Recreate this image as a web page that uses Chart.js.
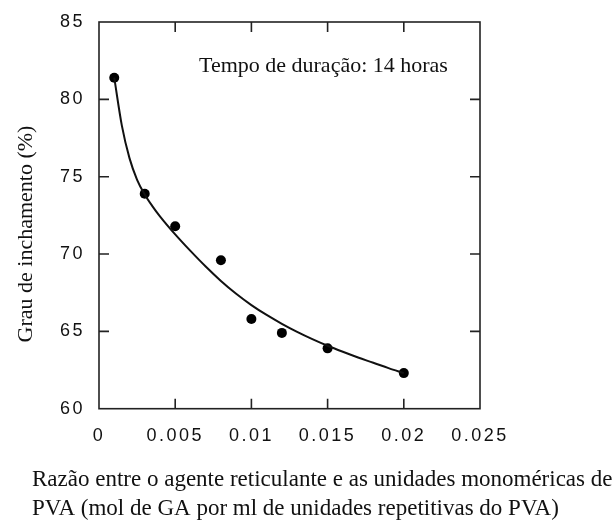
<!DOCTYPE html>
<html>
<head>
<meta charset="utf-8">
<script src="https://cdn.jsdelivr.net/npm/chart.js@4.4.0/dist/chart.umd.min.js"></script>
<style>
  html, body { margin: 0; padding: 0; background: #fff; }
  #wrap { width: 614px; height: 520px; }
</style>
</head>
<body>
<div id="wrap"><canvas id="chart" width="614" height="520"></canvas></div>
<script>
// Measured swelling degree versus crosslinker ratio (14 h)
const ratio    = [0.001, 0.003, 0.005, 0.008, 0.010, 0.012, 0.015, 0.020];
const swelling = [81.4, 73.9, 71.8, 69.6, 65.8, 64.9, 63.9, 62.3];

// Fitted trend curve, read at a few ratios
const fitRatio    = [0.001, 0.0015, 0.002, 0.0025, 0.003, 0.0035, 0.004, 0.005, 0.006, 0.007, 0.008, 0.009, 0.010,
                     0.011, 0.012, 0.013, 0.014, 0.015, 0.016, 0.017, 0.018, 0.019, 0.020];
const fitSwelling = [81.4, 78.3, 76.2, 74.8, 73.85, 73.1, 72.44, 71.27, 70.2, 69.19, 68.26, 67.43, 66.7,
                     66.06, 65.49, 64.97, 64.5, 64.07, 63.68, 63.31, 62.97, 62.62, 62.3];

// Axis ticks
const xTicks = [0, 0.005, 0.01, 0.015, 0.02, 0.025];
const xTickLabels = ['0', '0.005', '0.01', '0.015', '0.02', '0.025'];
const yTicks = [60, 65, 70, 75, 80, 85];
const yTickLabels = ['60', '65', '70', '75', '80', '85'];

const annotation = 'Tempo de duração: 14 horas';
const yTitle = 'Grau de inchamento (%)';
const xTitle = [
  'Razão entre o agente reticulante e as unidades monoméricas de',
  'PVA (mol de GA por ml de unidades repetitivas do PVA)'
];

const SERIF = '"Liberation Serif", "Times New Roman", serif';
const SANS = '"Liberation Sans", Arial, sans-serif';
const INK = '#111';

// Frame, inward tick marks and the serif texts
const framePlugin = {
  id: 'frame',
  beforeDraw(chart) {
    chart.ctx.letterSpacing = '2.5px';
  },
  afterDatasetsDraw(chart) {
    const { ctx, chartArea: a, scales } = chart;
    ctx.save();
    ctx.letterSpacing = '0px';
    ctx.strokeStyle = '#222';
    ctx.lineWidth = 1.6;
    ctx.strokeRect(a.left, a.top, a.right - a.left, a.bottom - a.top);
    const len = 10;
    ctx.beginPath();
    xTicks.slice(1, -1).forEach(v => {
      const px = scales.x.getPixelForValue(v);
      ctx.moveTo(px, a.bottom); ctx.lineTo(px, a.bottom - len);
      ctx.moveTo(px, a.top); ctx.lineTo(px, a.top + len);
    });
    yTicks.slice(1, -1).forEach(v => {
      const py = scales.y.getPixelForValue(v);
      ctx.moveTo(a.left, py); ctx.lineTo(a.left + len, py);
      ctx.moveTo(a.right, py); ctx.lineTo(a.right - len, py);
    });
    ctx.stroke();
    ctx.restore();
  },
  afterDraw(chart) {
    const { ctx, chartArea: a } = chart;
    ctx.save();
    ctx.letterSpacing = '0px';
    ctx.fillStyle = INK;
    ctx.textAlign = 'left';
    ctx.textBaseline = 'alphabetic';

    ctx.font = '22px ' + SERIF;
    ctx.fillText(annotation, a.left + 100, 72);

    ctx.font = '23px ' + SERIF;
    xTitle.forEach((line, i) => ctx.fillText(line, 32, 486 + i * 29));

    ctx.font = '22px ' + SERIF;
    ctx.translate(26, 234);
    ctx.rotate(-Math.PI / 2);
    ctx.textAlign = 'center';
    ctx.textBaseline = 'middle';
    ctx.fillText(yTitle, 0, 0);
    ctx.restore();
  }
};

new Chart(document.getElementById('chart'), {
  type: 'scatter',
  data: {
    datasets: [
      {
        type: 'line',
        data: fitRatio.map((x, i) => ({ x, y: fitSwelling[i] })),
        borderColor: '#111',
        borderWidth: 2,
        pointRadius: 0,
        fill: false,
        cubicInterpolationMode: 'monotone'
      },
      {
        type: 'scatter',
        data: ratio.map((x, i) => ({ x, y: swelling[i] })),
        backgroundColor: '#000',
        borderWidth: 0,
        pointRadius: 5
      }
    ]
  },
  options: {
    responsive: false,
    animation: false,
    devicePixelRatio: 1,
    layout: { padding: { left: 0, top: 22, right: 134, bottom: 0 } },
    plugins: { legend: { display: false }, tooltip: { enabled: false } },
    scales: {
      x: {
        type: 'linear',
        min: 0, max: 0.025,
        afterBuildTicks: s => { s.ticks = xTicks.map(v => ({ value: v })); },
        afterFit: s => { s.height = 111.3; },
        grid: { display: false },
        border: { display: false },
        ticks: {
          padding: 9,
          maxRotation: 0,
          autoSkip: false,
          color: INK,
          font: { family: SANS, size: 18 },
          callback: (v, i) => xTickLabels[i]
        }
      },
      y: {
        type: 'linear',
        min: 60, max: 85,
        afterBuildTicks: s => { s.ticks = yTicks.map(v => ({ value: v })); },
        afterFit: s => { s.width = 99; },
        grid: { display: false },
        border: { display: false },
        ticks: {
          padding: 6,
          autoSkip: false,
          color: INK,
          font: { family: SANS, size: 18 },
          callback: (v, i) => yTickLabels[i]
        }
      }
    }
  },
  plugins: [framePlugin]
});
</script>
</body>
</html>
